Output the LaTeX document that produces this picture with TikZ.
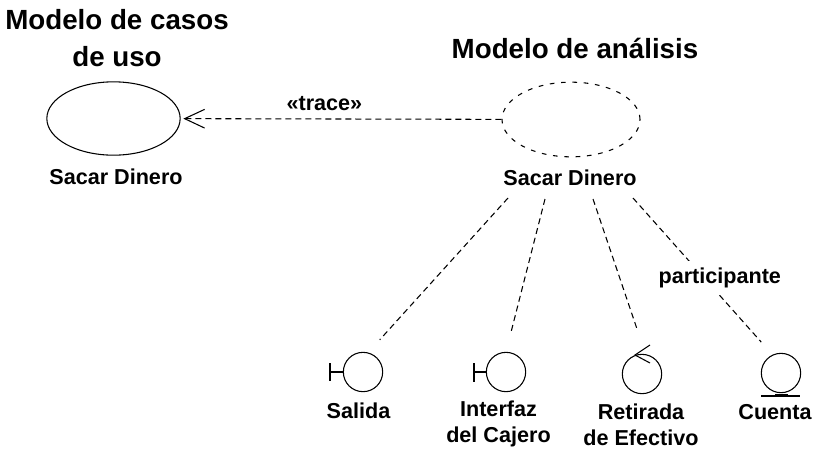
\documentclass[tikz,border=0pt]{standalone}
\usepackage{fontspec}
\setmainfont{Liberation Sans}
\usetikzlibrary{arrows.meta,shapes.geometric}
\tikzset{
    heading/.style={font=\fontsize{20.8}{24}\selectfont\bfseries},
    caption/.style={font=\fontsize{16.2}{19.5}\selectfont\bfseries, align=center, inner sep=0pt},
    usecase/.style={ellipse, draw, minimum width=100pt, minimum height=55pt, inner sep=0pt},
    icon/.style={circle, draw, minimum size=29.5pt, inner sep=0pt},
    link/.style={dash pattern=on 4.5pt off 3pt},
}
\begin{document}
\begin{tikzpicture}[x=.75pt,y=-.75pt,line width=.8pt]
    \useasboundingbox (0,0) rectangle (823,457);
    \node [heading](1) at (117,20){Modelo de casos};
    \node [heading](2) at (117,57){de uso};
    \node [heading](3) at (575,48){Modelo de análisis};

    \node [usecase](4) at (113.5,118.5){};
    \node [usecase, minimum width=103.5pt, minimum height=56pt, dash pattern=on 3.5pt off 5pt](5) at (571,119.5){};
    \node [caption](6) at (116,177){Sacar Dinero};
    \node [caption](7) at (570,178){Sacar Dinero};

    \node [icon](8) at (363,372){};
    \node [icon](9) at (506,372){};
    \node [icon](10) at (642,374){};
    \node [icon](11) at (781,373){};

    \node [caption](12) at (358.5,411){Salida};
    \node [caption](13) at (498.5,424){Interfaz\\del Cajero};
    \node [caption](14) at (641,425){Retirada\\de Efectivo};
    \node [caption](15) at (775,412){Cuenta};

    \coordinate (a) at (508,198);
    \coordinate (b) at (545,199);
    \coordinate (c) at (593,199);
    \coordinate (d) at (633,198);
    \coordinate (e) at (330,372);
    \coordinate (f) at (474,372);

    \path[every node/.style={caption}]
        (5) edge[link, shorten >=2pt, -{Straight Barb[length=15pt,width=14pt]}] node[above=6pt, xshift=-12.5pt]{«trace»} (4)
        (a) edge[link, shorten >=12.8pt] (8.75)
        (b) edge[link, shorten >=15pt] (9.north)
        (c) edge[link, shorten >=19.7pt] (10.80)
        (d) edge[link, shorten >=12.6pt] node[pos=.45, xshift=18pt, yshift=-7pt, fill=white, inner ysep=5pt]{participante} (11.115)
        (e) edge (8)
        (f) edge (9)
    ;
    % bars on the boundary and entity icons
    \draw [line width=1.2pt] (330,363) -- (330,381);
    \draw (474,363) -- (474,382);
    \draw (761,396) -- (800,396);
    \draw [line width=1.6pt] (775,395) -- (788,395);
    \draw (650,345) -- (635,355) -- (650,363);
\end{tikzpicture}
\end{document}
